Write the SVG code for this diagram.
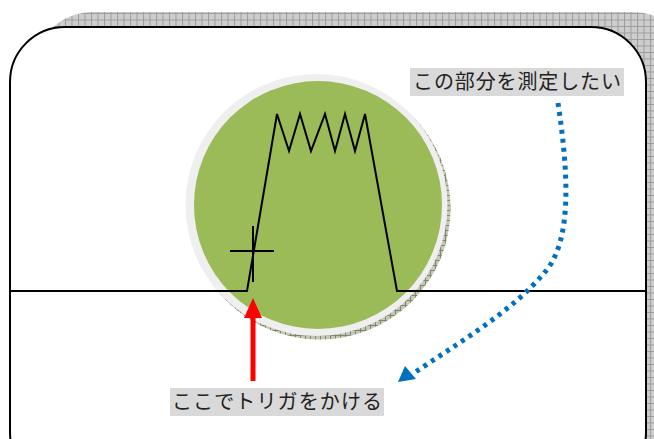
<svg xmlns="http://www.w3.org/2000/svg" width="654" height="439" viewBox="0 0 654 439">
<style>
.wave{fill:none;stroke:#000;stroke-width:2;stroke-linejoin:miter}
.lbl{font-family:"Liberation Serif","Noto Sans CJK JP",serif;font-size:20px;fill:#222}
.lblbox{fill:#D9D9D9}
</style>
<defs>
<pattern id="hatch" width="6.5" height="6.5" patternUnits="userSpaceOnUse">
<rect width="6.5" height="6.5" fill="#CDCDCD"/>
<path d="M0,0.5H6.5M0.5,0V6.5" stroke="#9C9C9C" stroke-width="1"/>
</pattern>
<pattern id="hatchg" width="5" height="5" patternUnits="userSpaceOnUse">
<rect width="5" height="5" fill="#C3C9B3"/>
<path d="M0,0.5H5M0.5,0V5" stroke="#7D8670" stroke-width="1"/>
</pattern>
</defs>
<g id="frame">
<rect x="33" y="12" width="660" height="480" rx="60" fill="url(#hatch)"/>
<rect x="10" y="27" width="636" height="460" rx="55" fill="#fff" stroke="#000" stroke-width="2"/>
</g>
<g id="circle">
<circle cx="319.5" cy="208.5" r="131" fill="url(#hatchg)"/>
<circle cx="316.5" cy="205" r="131" fill="#EFEFEF"/>
<circle cx="318" cy="205" r="124" fill="#9BBB59"/>
</g>
<g id="waveform">
<polyline class="wave" points="10,291 247,291 277,114 289,151 300,114 311,151 325,114 335,151 345,114 355,151 365,114 397,291 646,291"/>
<path class="wave" d="M230,251H274M253,226V282"/>
</g>
<g id="connectors">
<path d="M253,381V314" stroke="#FF0000" stroke-width="5" fill="none"/>
<polygon points="253,298 244,318 262,318" fill="#FF0000"/>
<path d="M558,103 C568,170 573,240 545,272 C512,312 455,345 414,373" fill="none" stroke="#0070C0" stroke-width="5" stroke-dasharray="4 5"/>
<polygon points="398,382 405,366 416,379" fill="#0070C0"/>
</g>
<g id="label-measure">
<rect class="lblbox" x="410" y="68" width="214" height="28"/>
<text class="lbl" x="413" y="89" textLength="208" lengthAdjust="spacing">この部分を測定したい</text>
</g>
<g id="label-trigger">
<rect class="lblbox" x="170" y="388" width="214" height="28"/>
<text class="lbl" x="172" y="409" textLength="210" lengthAdjust="spacing">ここでトリガをかける</text>
</g>
</svg>
